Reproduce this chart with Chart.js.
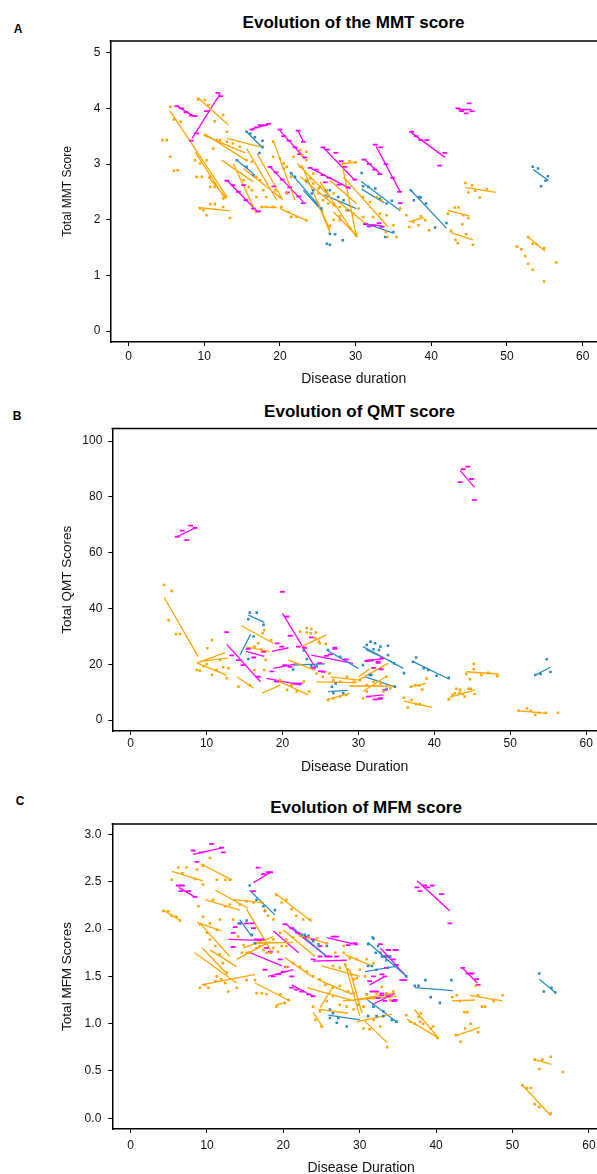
<!DOCTYPE html>
<html>
<head>
<meta charset="utf-8">
<script src="https://cdn.jsdelivr.net/npm/chart.js@4.4.1/dist/chart.umd.min.js"></script>
<style>
    body { margin: 0; width: 597px; height: 1174px; overflow: hidden; background: #fff; position: relative;
           font-family: "Liberation Sans", Arial, sans-serif; }
    .panel { position: absolute; left: 0; }
    .lbl { position: absolute; font-weight: bold; color: #000; white-space: nowrap; transform: translate(-50%, -50%); }
</style>
</head>
<body>
<div class="lbl" style="left:18px; top:29px; font-size:12px;">A</div>
<div class="lbl" style="left:353.6px; top:23px; font-size:17px;">Evolution of the MMT score</div>
<div class="lbl" style="left:17px; top:416px; font-size:12px;">B</div>
<div class="lbl" style="left:359.5px; top:411.5px; font-size:17px;">Evolution of QMT score</div>
<div class="lbl" style="left:20px; top:801px; font-size:12px;">C</div>
<div class="lbl" style="left:366px; top:808px; font-size:17px;">Evolution of MFM score</div>

<canvas id="chartA" class="panel" style="top:0px" width="620" height="395"></canvas>
<canvas id="chartB" class="panel" style="top:395px" width="620" height="385"></canvas>
<canvas id="chartC" class="panel" style="top:780px" width="620" height="400"></canvas>

<script>
// Axis ticks
const xTicks = [0, 10, 20, 30, 40, 50, 60];
const mmtTicks = [0, 1, 2, 3, 4, 5];
const qmtTicks = [0, 20, 40, 60, 80, 100];
const mfmTicks = [0, 0.5, 1, 1.5, 2, 2.5, 3];

// ---- Panel A: MMT score. Lines are [x1, y1, x2, y2], points are [x, y]
const mmtOrangeLines = [
    [9.1,4.2,13.2,3.7], [5.5,3.95,13.0,2.41], [13.0,3.46,17.4,3.31], [9.9,3.52,15.4,3.2],
    [8.8,3.22,12.75,2.38], [9.2,2.22,13.4,2.16], [17.4,2.23,19.6,2.22], [20.0,2.2,23.5,1.99],
    [22.9,2.98,26.6,1.78], [19.1,3.43,22.0,2.35], [28.2,3.01,30.1,1.7], [28.4,3.01,30.0,3.03],
    [24.9,2.35,26.6,1.82], [15.6,3.28,19.6,2.35], [12.3,3.07,16.5,2.68], [13.85,3.01,16.9,2.11],
    [10.5,2.77,13.0,2.38], [22.7,2.77,27.5,2.23], [22.3,3.01,26.6,2.41], [17.0,3.19,20.4,2.35],
    [27.5,2.35,31.9,1.87], [26.6,2.71,30.1,2.29], [25.3,2.68,30.1,1.69], [27.1,2.14,30.3,1.69],
    [28.4,2.77,34.3,1.87], [15.2,2.92,20.2,2.38], [44.5,2.58,48.5,2.49], [42.2,2.17,45.0,2.07],
    [42.6,1.77,45.5,1.64], [52.8,1.69,55.0,1.44], [37.0,1.96,39.0,2.04], [10.0,3.55,15.5,3.07]
];
const mmtMagentaLines = [
    [8.4,3.46,12.1,4.26], [6.4,4.04,8.6,3.86], [16.3,3.63,18.5,3.71], [13.0,2.71,17.15,2.13],
    [20.0,3.6,23.3,3.1], [22.4,3.6,23.1,3.4], [25.7,3.3,29.9,2.71], [18.7,2.95,23.1,2.32],
    [24.0,2.93,29.3,2.56], [31.2,3.08,33.2,2.83], [32.7,3.32,35.9,2.5], [31.3,1.92,33.5,1.89],
    [37.4,3.56,41.8,3.12], [43.6,3.98,45.3,3.98]
];
const mmtBlueLines = [
    [15.6,3.58,17.8,3.28], [14.3,3.07,16.5,2.83], [21.3,2.86,25.5,2.2], [25.8,2.45,30.1,2.2],
    [30.7,2.69,35.9,2.16], [30.8,2.55,33.8,2.3], [23.1,2.53,25.7,2.14], [31.2,1.94,35.0,1.76],
    [37.3,2.53,42.0,1.85], [53.5,2.9,55.5,2.7]
];
const mmtOrangePts = [
    [4.5,3.43],[5.05,3.43],[5.5,3.13],[6.0,2.88],[6.5,2.89],[5.5,4.03],[6.0,3.8],[6.9,3.76],[9.2,4.16],[10.1,4.15],
    [10.55,4.06],[11.4,3.77],[12.5,3.88],[13.0,3.58],[8.8,3.07],[9.45,3.01],[9.0,2.77],[9.7,2.77],[10.3,3.07],[10.8,2.77],
    [11.4,2.59],[10.8,2.59],[12.1,3.43],[11.65,3.43],[11.2,3.28],[13.0,3.4],[13.8,3.37],[14.7,3.31],[12.5,2.38],[9.45,2.2],
    [9.9,2.17],[10.8,2.28],[11.4,2.28],[10.3,2.08],[13.4,2.03],[12.5,2.23],[15.6,3.07],[16.3,3.04],[16.9,2.77],[17.4,2.71],
    [15.2,2.71],[15.9,2.59],[16.3,2.53],[16.9,2.41],[17.8,2.53],[18.2,2.41],[17.6,2.23],[18.2,2.23],[19.1,2.23],[20.2,2.23],
    [21.1,2.14],[21.5,2.05],[22.2,2.05],[23.5,1.99],[19.1,3.13],[20.0,3.1],[20.5,3.01],[20.9,2.95],[21.5,2.77],[19.4,2.53],
    [20.0,2.41],[20.9,2.47],[23.5,2.71],[24.4,2.65],[25.3,2.59],[26.2,2.53],[27.1,2.47],[22.7,2.95],[23.5,3.07],[24.4,2.83],
    [25.1,2.47],[25.7,2.35],[26.4,2.29],[26.6,1.89],[27.1,2.0],[27.9,2.06],[28.8,2.17],[22.7,3.25],[19.1,3.4],[20.5,2.92],
    [21.8,3.13],[36.7,2.08],[37.1,1.87],[37.6,1.96],[38.3,1.9],[38.6,2.06],[39.2,1.99],[39.7,1.81],[35.4,1.69],[34.2,1.69],
    [34.0,1.78],[42.2,2.11],[43.1,2.22],[43.6,2.22],[44.2,2.08],[44.9,2.03],[44.1,1.92],[44.6,1.74],[45.5,1.55],[43.5,1.58],
    [43.2,1.64],[42.6,1.8],[44.5,2.66],[45.4,2.62],[45.8,2.52],[46.4,2.4],[47.3,2.55],[44.9,2.49],[52.8,1.69],[53.4,1.57],
    [53.9,1.56],[54.9,1.49],[51.3,1.52],[51.9,1.47],[52.4,1.35],[52.8,1.21],[53.4,1.1],[54.9,0.89],[56.5,1.23],[24.0,2.74],
    [25.1,2.56],[26.2,2.41],[27.1,2.26],[27.9,2.23],[28.8,2.17],[29.7,2.11],[30.4,2.2],[31.0,2.41],[31.9,2.32],[32.8,2.41],
    [33.4,2.35],[34.1,2.08],[35.0,1.9],[35.9,2.2],[27.9,1.99],[29.3,1.84],[30.1,1.75],[31.0,2.05],[32.3,2.05],[33.2,2.11],
    [28.4,3.01],[29.2,3.05],[30.0,3.03],[22.9,3.16],[23.5,3.22]
];
const mmtMagentaPts = [
    [6.4,4.04],[7.0,4.0],[7.6,3.93],[8.3,3.87],[8.8,3.86],[8.3,3.42],[9.0,3.55],[10.3,3.95],[11.8,4.28],[12.2,4.22],
    [16.3,3.62],[16.9,3.66],[17.4,3.7],[18.0,3.7],[18.5,3.72],[20.0,3.62],[20.5,3.5],[21.2,3.42],[22.0,3.3],[22.4,3.6],
    [23.1,3.4],[22.6,3.18],[23.3,3.12],[13.0,2.7],[13.8,2.62],[14.5,2.5],[15.5,2.35],[16.5,2.2],[17.2,2.15],[15.2,2.62],
    [18.7,2.95],[19.5,2.85],[20.3,2.72],[21.3,2.58],[22.5,2.42],[23.1,2.3],[19.2,2.6],[21.0,2.49],[24.0,2.93],[24.8,2.9],
    [25.7,2.8],[26.5,2.75],[27.8,2.63],[29.0,2.58],[26.0,2.67],[25.7,3.3],[26.3,3.26],[27.4,3.2],[28.6,2.95],[29.9,2.72],
    [28.1,3.05],[31.1,3.08],[31.8,3.0],[32.5,2.9],[33.2,2.82],[32.6,3.35],[33.3,3.3],[34.0,3.0],[34.9,2.75],[35.8,2.5],
    [35.9,2.3],[31.3,1.92],[31.8,1.88],[32.4,1.9],[33.1,1.94],[33.5,1.87],[37.4,3.58],[38.0,3.5],[38.6,3.43],[39.4,3.43],
    [41.8,3.2],[41.1,2.97],[43.5,4.0],[44.0,3.95],[44.6,3.91],[45.0,4.09],[45.4,3.95]
];
const mmtBluePts = [
    [15.6,3.58],[16.1,3.55],[16.7,3.48],[17.7,3.31],[17.3,3.2],[17.7,3.42],[14.3,3.07],[15.6,2.95],[16.5,2.8],
    [21.5,2.83],[22.0,2.77],[23.5,2.71],[24.4,2.53],[25.5,2.2],[26.6,1.75],[27.3,1.74],[26.2,1.57],[26.6,1.55],
    [26.6,2.53],[27.7,2.41],[28.4,2.35],[29.0,2.17],[30.8,2.84],[31.0,2.6],[31.7,2.59],[32.6,2.56],[33.2,2.38],
    [34.1,2.29],[34.8,2.34],[33.9,1.69],[35.0,1.78],[28.3,1.63],[26.1,2.53],[23.5,2.69],[24.2,2.47],
    [37.3,2.53],[37.7,2.35],[38.4,2.41],[38.6,2.4],[39.3,2.29],[40.5,1.86],[42.0,1.94],
    [53.4,2.95],[54.1,2.92],[55.4,2.78],[55.1,2.7],[54.5,2.6]
];

// ---- Panel B: QMT score
const qmtOrangeLines = [
    [4.4,44.0,8.9,22.7], [8.7,20.5,12.65,16.1], [8.7,20.5,12.4,24.1], [9.2,21.0,12.8,22.2],
    [14.6,33.8,18.8,27.5], [15.2,26.2,18.3,24.6], [14.0,15.5,16.2,11.4], [17.3,9.6,19.7,12.5],
    [22.5,26.3,25.8,30.5], [20.8,21.5,24.3,17.8], [19.2,14.3,23.4,9.0], [24.5,13.7,29.8,13.4],
    [25.8,7.2,28.9,9.6], [30.0,14.3,33.9,20.3], [30.6,10.2,33.7,15.7], [28.8,12.2,34.9,12.2],
    [36.0,6.8,39.7,4.55], [36.8,11.9,38.9,13.1], [44.2,17.3,48.5,16.5], [42.0,8.1,45.4,10.8],
    [51.1,3.3,54.9,2.4], [26.3,15.5,30.0,14.3], [30.0,15.4,31.5,18.4]
];
const qmtMagentaLines = [
    [6.1,65.7,8.5,68.9], [12.65,27.1,17.1,13.7], [15.2,24.6,17.6,22.8], [20.0,38.2,24.3,18.9],
    [18.6,24.6,20.8,25.9], [18.8,18.5,22.1,20.3], [17.9,14.9,22.5,12.5], [23.8,23.3,29.3,20.3],
    [30.9,21.4,33.3,21.9], [31.1,8.4,33.3,9.0], [43.4,89.4,45.3,83.4]
];
const qmtBlueLines = [
    [14.4,23.3,15.8,30.7], [15.5,37.6,17.6,35.0], [21.4,19.7,25.6,20.1], [26.0,10.2,28.6,10.6],
    [25.8,25.1,30.0,18.5], [30.6,26.3,35.9,18.5], [31.0,25.2,34.5,20.8], [30.9,15.5,34.8,11.9],
    [37.2,20.9,41.9,14.7], [53.3,16.1,55.3,18.9]
];
const qmtOrangePts = [
    [4.39,48.4],[5.4,46.3],[5.0,35.8],[5.97,30.8],[6.5,30.8],[8.7,17.9],[9.1,17.7],[9.6,19.3],[10.0,20.1],[10.1,25.7],
    [10.7,28.7],[11.3,17.9],[11.8,21.5],[12.2,18.9],[12.65,15.0],[12.9,18.6],[10.7,16.2],[14.2,11.9],[15.7,12.5],[16.3,17.9],
    [17.6,17.9],[17.2,25.3],[17.4,31.1],[16.3,26.3],[16.8,27.5],[17.6,32.3],[18.5,28.7],[17.8,21.5],[19.7,14.3],[20.6,10.8],
    [21.2,12.5],[21.9,10.2],[22.8,13.8],[23.5,10.2],[22.3,31.7],[23.2,32.9],[23.7,31.1],[24.3,29.3],[24.9,27.5],[24.5,16.7],
    [25.3,15.5],[26.2,16.7],[26.7,14.3],[27.6,13.7],[28.5,15.5],[29.4,13.7],[30.2,14.3],[31.1,12.5],[32.0,13.7],[32.9,13.1],
    [33.7,15.5],[34.2,11.3],[26.0,7.2],[26.7,7.8],[27.6,8.4],[28.4,9.0],[30.6,7.8],[31.1,10.2],[33.3,10.2],[23.2,31.4],
    [23.8,32.6],[24.4,31.4],[24.8,28.1],[25.7,27.3],[36.0,8.0],[36.5,4.5],[37.0,7.2],[37.6,5.7],[38.1,5.7],[39.0,14.9],
    [38.4,10.9],[36.9,11.9],[37.5,12.5],[38.0,12.3],[41.9,7.4],[42.4,9.0],[42.7,9.6],[43.3,9.8],[43.7,9.3],[44.0,8.4],
    [44.5,11.2],[44.8,11.2],[45.3,9.3],[42.9,11.2],[43.4,10.8],[44.2,16.5],[45.2,18.3],[45.2,20.1],[46.2,16.1],[47.1,16.9],
    [48.3,15.7],[44.7,14.6],[51.1,3.3],[52.2,4.1],[52.7,3.3],[53.3,1.8],[53.8,2.6],[54.7,2.6],[56.3,2.6]
];
const qmtMagentaPts = [
    [6.14,65.7],[6.8,67.9],[7.4,64.5],[7.9,69.7],[8.5,68.9],[12.65,31.5],[13.3,23.2],[14.2,21.5],[14.8,19.7],[15.5,25.5],
    [16.2,22.4],[16.8,15.5],[17.5,24.4],[20.0,45.9],[20.6,37.1],[21.0,30.2],[22.1,26.3],[19.3,27.5],[19.9,26.3],[18.6,17.4],
    [19.2,13.8],[20.3,19.7],[21.0,19.1],[22.3,13.1],[21.6,13.1],[24.1,18.7],[25.0,17.5],[26.9,25.9],[26.3,23.5],[28.4,21.7],
    [31.1,21.1],[32.0,18.7],[32.6,20.5],[33.1,22.2],[31.3,8.4],[32.2,7.4],[32.9,7.8],[33.5,10.8],[43.4,85.3],[43.8,89.9],
    [44.4,90.8],[44.9,86.4],[45.3,78.8],[31.7,21.3],[32.6,20.9],[33.0,18.2],[32.8,7.6],[23.8,29.6],[26.9,25.5],[25.8,23.0],
    [24.9,20.4],[22.9,25.9],[25.4,17.3]
];
const qmtBluePts = [
    [15.5,36.1],[15.7,38.5],[16.6,38.5],[17.5,34.1],[15.5,21.9],[16.2,29.9],[21.4,18.1],[22.8,24.9],[23.2,21.9],[23.8,19.3],
    [24.5,19.3],[26.0,25.1],[27.6,22.7],[26.5,11.9],[26.7,9.6],[27.0,13.1],[28.0,9.6],[31.1,26.9],[31.6,28.1],[32.2,27.5],
    [32.9,26.3],[32.7,25.1],[33.9,23.3],[30.6,19.7],[31.7,16.1],[34.8,11.9],[32.0,25.4],[33.9,26.6],[34.7,20.3],[36.0,16.8],
    [31.5,16.1],[33.7,11.2],[37.2,20.9],[37.6,22.4],[38.6,18.6],[39.2,17.9],[40.3,15.9],[41.9,15.1],[53.3,16.1],[54.0,16.5],
    [54.8,21.8],[55.3,17.2]
];

// ---- Panel C: MFM score
const mfmOrangeLines = [
    [5.4,2.61,9.5,2.51], [9.2,2.69,13.25,2.52], [4.3,2.2,6.5,2.09], [11.1,2.41,15.4,2.22],
    [9.75,2.31,14.3,2.2], [13.45,2.31,17.4,2.28], [18.9,2.38,23.7,2.08], [8.7,2.07,11.9,1.98],
    [9.1,2.06,13.0,1.71], [8.4,1.75,13.9,1.43], [9.4,1.8,12.7,1.52], [9.3,1.41,16.3,1.52],
    [10.4,1.78,13.9,1.6], [16.3,1.43,20.9,1.24], [19.1,1.2,20.2,1.22], [14.8,1.8,18.7,1.92],
    [15.2,2.21,18.3,1.78], [16.1,1.85,21.3,1.86], [13.9,1.68,18.3,1.87], [28.1,1.73,31.6,1.61],
    [24.4,1.47,29.0,1.31], [24.6,1.15,28.5,1.11], [23.9,1.12,25.2,0.96], [28.1,1.64,30.0,1.08],
    [29.6,1.02,34.2,1.1], [30.5,1.04,33.6,0.8], [29.2,1.25,34.4,1.32], [20.2,1.7,23.7,1.5],
    [20.0,1.99,24.15,1.71], [22.2,1.93,25.9,1.84], [25.0,1.61,30.0,1.5], [23.1,1.38,29.2,1.24],
    [24.8,1.17,26.6,1.4], [28.7,1.57,30.3,1.11], [27.8,1.24,34.8,1.29], [36.15,1.05,40.3,0.85],
    [37.15,1.15,40.3,0.85], [42.1,1.24,45.1,1.25], [44.4,1.3,48.7,1.24], [42.5,0.87,45.7,0.96],
    [52.9,0.62,55.1,0.57], [51.3,0.35,55.0,0.03]
];
const mfmMagentaLines = [
    [8.2,2.79,12.15,2.86], [6.3,2.44,8.4,2.34], [16.1,2.49,18.35,2.6], [12.8,1.89,17.2,1.88],
    [15.4,1.76,19.8,1.61], [18.0,1.5,21.3,1.57], [20.2,2.06,25.7,1.71], [18.7,1.98,22.0,1.75],
    [23.9,1.66,28.3,1.67], [25.7,1.91,29.8,1.83], [21.1,1.41,23.9,1.29], [32.7,1.8,36.1,1.5],
    [31.3,1.41,33.3,1.5], [31.6,1.2,34.6,1.32], [37.5,2.51,41.8,2.19], [43.4,1.59,45.4,1.43]
];
const mfmBlueLines = [
    [15.6,2.41,18.9,2.15], [14.3,2.1,15.9,1.92], [21.3,2.01,25.7,1.71], [25.9,1.09,30.0,1.04],
    [30.9,1.26,34.8,1.02], [31.05,1.86,36.1,1.5], [30.7,1.55,35.05,1.61], [37.2,1.38,42.2,1.35],
    [53.5,1.47,55.6,1.33]
];
const mfmOrangePts = [
    [4.3,2.19],[4.95,2.19],[5.4,2.14],[6.0,2.13],[6.5,2.09],[5.4,2.52],[6.26,2.65],[7.35,2.65],[8.45,2.53],[9.5,2.47],
    [6.8,2.59],[8.7,2.63],[9.5,2.67],[10.4,2.75],[11.3,2.52],[12.4,2.52],[13.0,2.52],[8.9,2.24],[9.5,2.13],[10.0,1.96],
    [9.1,2.05],[10.4,1.89],[11.1,1.82],[11.7,1.73],[12.1,1.64],[12.6,1.54],[11.3,1.5],[9.1,1.38],[9.75,1.41],[10.2,1.38],
    [11.1,1.45],[11.9,1.47],[12.4,1.43],[12.8,1.34],[13.9,1.38],[15.2,1.46],[16.3,1.46],[10.4,2.06],[10.8,2.31],[11.3,1.99],
    [11.7,2.1],[12.4,2.24],[13.0,2.26],[13.45,2.1],[14.1,1.92],[14.6,1.75],[14.8,1.83],[15.2,1.75],[15.6,1.75],[16.5,1.8],
    [16.9,1.82],[17.4,1.78],[17.8,1.75],[18.3,1.75],[18.7,1.8],[19.3,1.76],[19.8,1.82],[20.4,1.82],[14.3,2.26],[15.2,2.29],
    [16.1,2.28],[17.2,2.28],[17.6,2.2],[18.0,2.14],[18.7,2.1],[19.1,2.36],[19.8,2.28],[20.4,2.31],[21.1,2.21],[21.7,2.14],
    [22.6,2.1],[23.5,2.1],[16.5,1.32],[17.2,1.32],[17.8,1.31],[19.6,1.31],[20.7,1.25],[19.1,1.18],[20.2,1.22],[18.7,1.89],
    [19.6,1.96],[20.4,1.89],[21.3,1.91],[22.2,1.93],[23.3,1.91],[24.4,1.9],[25.7,1.85],[26.8,1.75],[27.9,1.82],[20.4,1.6],
    [21.3,1.64],[22.2,1.6],[23.1,1.55],[23.9,1.5],[24.8,1.47],[25.5,1.41],[26.5,1.38],[27.4,1.4],[28.5,1.34],[29.2,1.32],
    [23.9,1.18],[24.8,1.13],[25.7,1.24],[26.5,1.29],[27.4,1.2],[28.3,1.18],[29.2,1.15],[29.8,1.2],[30.5,1.18],[30.9,1.31],
    [31.8,1.27],[32.2,1.32],[32.9,1.39],[33.5,1.32],[34.0,1.25],[34.4,1.34],[26.5,1.61],[27.4,1.59],[28.1,1.62],[28.5,1.57],
    [28.9,1.52],[29.2,1.47],[29.6,1.48],[30.0,1.57],[30.7,1.5],[24.2,1.04],[25.0,0.97],[31.8,1.04],[32.7,0.97],[33.6,0.75],
    [31.3,0.94],[30.5,0.95],[27.9,1.75],[28.7,1.69],[29.6,1.68],[30.9,1.68],[31.8,1.64],[36.1,1.09],[36.6,1.02],[37.2,1.0],
    [37.9,1.02],[38.3,1.0],[39.3,0.95],[39.6,0.97],[40.2,0.85],[37.7,1.07],[38.0,1.11],[42.1,1.28],[42.7,1.3],[43.1,1.24],
    [43.7,1.12],[44.1,1.12],[45.5,1.3],[46.0,1.18],[46.4,1.18],[47.5,1.24],[48.7,1.3],[42.6,0.88],[43.2,0.81],[43.8,0.95],
    [44.5,1.0],[45.5,0.91],[45.2,1.4],[52.9,0.62],[53.5,0.52],[53.9,0.62],[55.0,0.65],[56.6,0.49],[51.3,0.35],[51.9,0.32],
    [52.4,0.32],[52.9,0.15],[53.5,0.12],[55.0,0.05]
];
const mfmMagentaPts = [
    [8.2,2.83],[9.3,2.81],[10.6,2.9],[12.15,2.81],[11.9,2.86],[6.26,2.46],[6.8,2.46],[8.7,2.71],[7.6,2.4],[8.44,2.34],
    [6.6,2.4],[16.1,2.4],[16.7,2.65],[17.4,2.58],[18.0,2.6],[18.35,2.6],[13.7,2.02],[14.3,2.06],[15.2,2.06],[15.9,2.06],
    [16.1,2.01],[13.45,1.96],[13.45,1.81],[16.5,1.89],[17.2,1.89],[17.8,1.8],[18.3,1.76],[19.6,1.68],[20.4,1.6],[21.1,1.5],
    [17.6,1.57],[18.7,1.5],[19.4,1.52],[20.0,1.55],[21.1,1.38],[21.7,1.36],[22.4,1.34],[23.3,1.31],[23.9,1.29],[20.2,2.05],
    [21.1,2.01],[21.9,1.96],[23.1,1.92],[23.9,1.89],[24.8,1.82],[25.7,1.71],[23.9,1.68],[24.8,1.71],[26.1,1.71],[27.0,1.71],
    [26.5,1.92],[27.0,1.92],[28.5,1.83],[29.4,1.85],[31.3,1.45],[31.8,1.5],[32.9,1.52],[33.3,1.5],[33.5,1.59],[33.8,1.78],
    [34.8,1.78],[34.4,1.68],[34.6,1.25],[33.3,1.24],[32.9,1.32],[32.4,1.27],[37.5,2.44],[37.9,2.4],[38.5,2.46],[38.9,2.44],
    [39.5,2.46],[40.7,2.37],[41.8,2.06],[43.5,1.59],[44.2,1.53],[44.7,1.53],[45.3,1.47],[45.5,1.41],[32.7,1.84],[33.7,1.78],
    [34.6,1.78],[34.8,1.62],[35.5,1.46],[35.9,1.46],[33.3,1.71],[33.5,1.71],[31.6,1.34],[32.2,1.34],[32.9,1.3],[34.4,1.24],
    [34.6,1.24],[33.7,1.29]
];
const mfmBluePts = [
    [15.6,2.46],[16.5,2.31],[17.4,2.24],[17.6,2.19],[18.9,2.2],[14.3,2.06],[15.2,2.09],[15.9,1.94],[16.3,1.85],[22.4,1.94],
    [22.8,1.94],[23.3,1.93],[23.9,1.87],[24.6,1.84],[25.7,1.82],[26.1,1.15],[26.5,1.11],[27.2,1.06],[28.3,0.97],[26.1,1.06],
    [27.0,1.01],[31.1,1.84],[31.8,1.9],[32.7,1.75],[33.3,1.71],[33.9,1.71],[34.6,1.61],[30.9,1.31],[31.8,1.18],[33.1,1.13],
    [34.8,1.02],[31.7,1.91],[32.1,1.75],[32.4,1.82],[32.9,1.71],[33.5,1.67],[34.0,1.71],[31.1,1.61],[31.6,1.61],[32.2,1.57],
    [33.7,1.59],[36.1,1.5],[37.2,1.4],[37.7,1.4],[38.6,1.46],[39.3,1.28],[40.5,1.22],[42.0,1.46],[53.5,1.53],[54.1,1.34],
    [55.1,1.38],[55.6,1.33],[31.1,1.08],[32.2,1.08],[33.1,1.08],[34.2,1.04],[34.8,1.02]
];

const ORANGE = "#FFA500";
const MAGENTA = "#FF00FF";
const BLUE = "#2B8CC4";

Chart.defaults.font.family = '"Liberation Sans", Arial, sans-serif';
Chart.defaults.color = "#111";

// Draws the top edge of the frame
const topFrame = {
    id: "topFrame",
    afterDraw(chart) {
        const { ctx, chartArea: a } = chart;
        ctx.save();
        ctx.strokeStyle = "#000";
        ctx.lineWidth = 1.5;
        ctx.beginPath();
        ctx.moveTo(a.left - 0.75, a.top);
        ctx.lineTo(a.right, a.top);
        ctx.stroke();
        ctx.restore();
    }
};

// segments -> one line dataset, broken by null points
function segData(segs) {
    const out = [];
    segs.forEach(s => {
        out.push({ x: s[0], y: s[1] }, { x: s[2], y: s[3] }, { x: s[2], y: null });
    });
    return out;
}

function ptData(pts) {
    return pts.map(p => ({ x: p[0], y: p[1] }));
}

function lineSet(segs, color) {
    return { data: segData(segs), showLine: true, borderColor: color, borderWidth: 1.3,
             pointRadius: 0, spanGaps: false, order: 2 };
}

function rectSet(pts, color) {
    return { data: ptData(pts), showLine: false, pointStyle: "rect", pointRadius: 1.8,
             backgroundColor: color, borderWidth: 0, order: 1 };
}

function dashSet(pts, color) {
    return { data: ptData(pts), showLine: false, pointStyle: "line", pointRadius: 2.4,
             borderColor: color, pointBorderWidth: 1.8, order: 1 };
}

function createPanel(canvasId, p) {
    new Chart(document.getElementById(canvasId), {
        type: "scatter",
        data: {
            datasets: [
                lineSet(p.orangeLines, ORANGE),
                lineSet(p.blueLines, BLUE),
                lineSet(p.magentaLines, MAGENTA),
                rectSet(p.orangePts, ORANGE),
                rectSet(p.bluePts, BLUE),
                dashSet(p.magentaPts, MAGENTA)
            ]
        },
        options: {
            responsive: false,
            animation: false,
            layout: { padding: { top: p.padTop, right: p.padRight, left: 0, bottom: 0 } },
            plugins: {
                legend: { display: false },
                tooltip: { enabled: false }
            },
            scales: {
                x: {
                    type: "linear",
                    min: p.xMin,
                    max: p.xMax,
                    afterBuildTicks: s => { s.ticks = xTicks.map(v => ({ value: v })); },
                    afterFit: s => { s.height = p.xHeight; },
                    ticks: { color: "#111", font: { size: 12 }, padding: p.xTickPad, maxRotation: 0 },
                    grid: { display: true, drawOnChartArea: false, tickLength: 4, tickColor: "#000", tickWidth: 1 },
                    border: { display: true, color: "#000", width: 1.5 },
                    title: { display: true, text: p.xLabel, color: "#111", font: { size: 14 },
                             padding: { top: 0, bottom: p.xTitlePad } }
                },
                y: {
                    min: p.yMin,
                    max: p.yMax,
                    afterBuildTicks: s => { s.ticks = p.yTicks.map(v => ({ value: v })); },
                    afterFit: s => { s.width = p.left; },
                    ticks: { color: "#111", font: { size: 12 }, padding: p.yTickPad,
                             callback: v => p.decimals ? v.toFixed(p.decimals) : String(v) },
                    grid: { display: true, drawOnChartArea: false, tickLength: 4, tickColor: "#000", tickWidth: 1 },
                    border: { display: true, color: "#000", width: 1.5 },
                    title: { display: true, text: p.yLabel, color: "#111", font: { size: p.yTitleSize },
                             padding: { top: p.yTitlePad, bottom: 0 } }
                }
            }
        },
        plugins: [topFrame]
    });
}

createPanel("chartA", {
    orangeLines: mmtOrangeLines, magentaLines: mmtMagentaLines, blueLines: mmtBlueLines,
    orangePts: mmtOrangePts, magentaPts: mmtMagentaPts, bluePts: mmtBluePts,
    xMin: -2.39, xMax: 61.89, yMin: -0.196, yMax: 5.21, yTicks: mmtTicks, decimals: 0,
    padTop: 41, padRight: 23, left: 110.4, xHeight: 53, xTickPad: 3, xTitlePad: 7.6,
    yTickPad: 6, yTitleSize: 12, yTitlePad: 60,
    xLabel: "Disease duration", yLabel: "Total MMT Score"
});

createPanel("chartB", {
    orangeLines: qmtOrangeLines, magentaLines: qmtMagentaLines, blueLines: qmtBlueLines,
    orangePts: qmtOrangePts, magentaPts: qmtMagentaPts, bluePts: qmtBluePts,
    xMin: -2.42, xMax: 61.43, yMin: -3.94, yMax: 104.5, yTicks: qmtTicks, decimals: 0,
    padTop: 33.5, padRight: 23, left: 112.3, xHeight: 49, xTickPad: 1.5, xTitlePad: 4.9,
    yTickPad: 6, yTitleSize: 13.5, yTitlePad: 59,
    xLabel: "Disease Duration", yLabel: "Total QMT Scores"
});

createPanel("chartC", {
    orangeLines: mfmOrangeLines, magentaLines: mfmMagentaLines, blueLines: mfmBlueLines,
    orangePts: mfmOrangePts, magentaPts: mfmMagentaPts, bluePts: mfmBluePts,
    xMin: -2.38, xMax: 62.76, yMin: -0.113, yMax: 3.11, yTicks: mfmTicks, decimals: 1,
    padTop: 44, padRight: 10, left: 112.3, xHeight: 51, xTickPad: 5, xTitlePad: 3.6,
    yTickPad: 7, yTitleSize: 13.5, yTitlePad: 59,
    xLabel: "Disease Duration", yLabel: "Total MFM Scores"
});
</script>
</body>
</html>
